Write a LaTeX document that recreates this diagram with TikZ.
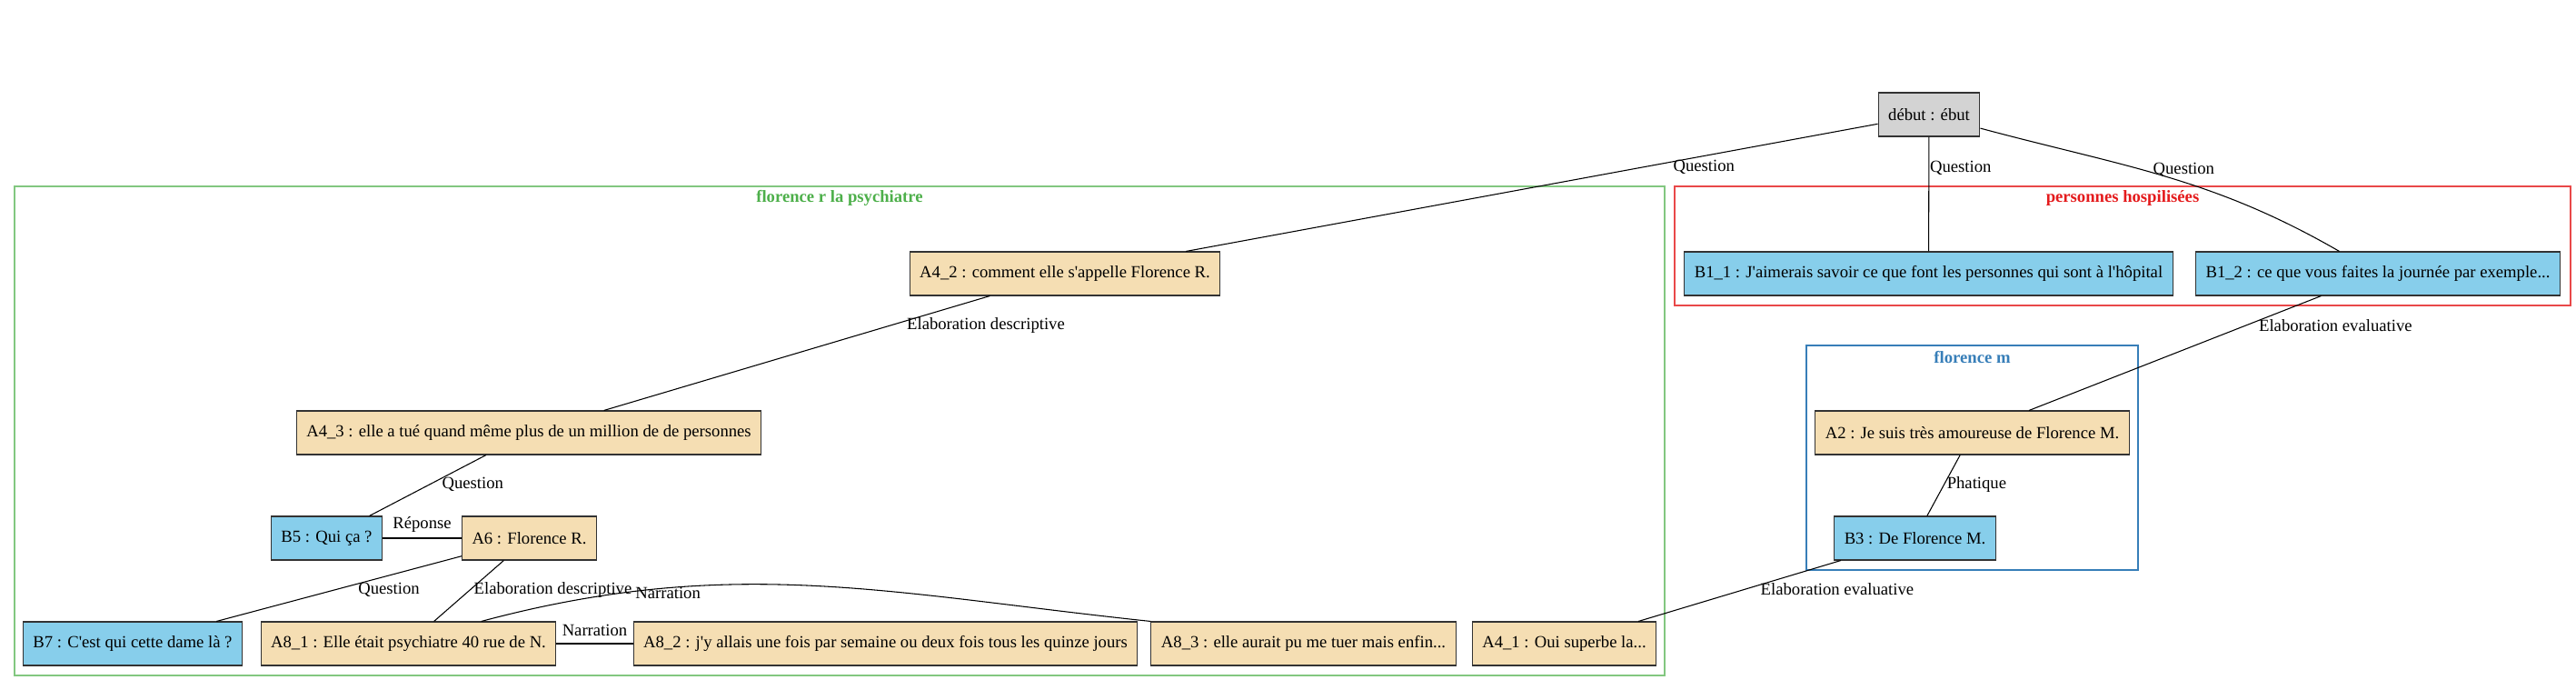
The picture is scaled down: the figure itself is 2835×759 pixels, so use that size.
\documentclass[tikz,border=0pt]{standalone}
\usepackage{fontspec}
\setmainfont{Liberation Serif}
\usepackage{tikz}
\usetikzlibrary{positioning}
\definecolor{wheat}{HTML}{F5DEB3}
\definecolor{skyblue}{HTML}{87CEEB}
\definecolor{greydeb}{HTML}{D3D3D3}
\definecolor{grpred}{HTML}{E41A1C}
\definecolor{grpblue}{HTML}{377EB8}
\definecolor{grpgreen}{HTML}{4DAF4A}
\tikzset{
    spka/.style={
           rectangle,
           draw=black!80, thick,
           fill=wheat,
           inner xsep=8.3pt, inner ysep=0pt,
           minimum height=36pt,
           },
}
\tikzset{
    spkb/.style={
           rectangle,
           draw=black!80, thick,
           fill=skyblue,
           inner xsep=8.3pt, inner ysep=0pt,
           minimum height=36pt,
           },
}
\tikzset{
    debutbox/.style={
           rectangle,
           draw=black!80, thick,
           fill=greydeb,
           inner xsep=8.3pt, inner ysep=0pt,
           minimum height=36pt,
           },
}
\tikzset{
    lbl/.style={anchor=west, inner sep=0pt},
    link/.style={draw=black, line width=0.8pt},
    grp/.style={line width=0.8pt},
    grplbl/.style={inner sep=0pt, font=\fontsize{14}{16}\selectfont\bfseries},
}

\begin{document}
\begin{tikzpicture}[x=0.75pt, y=-0.75pt, font=\fontsize{14}{16}\selectfont]
\useasboundingbox (0,0) rectangle (2835,759);
% groupes
\draw[grp, draw=grpgreen!70] (16,205) rectangle (1832,743);
\node[grplbl, text=grpgreen] (gpsy) at (924,218) {florence r la psychiatre};
\draw[grp, draw=grpred!80] (1843,205) rectangle (2829,336);
\node[grplbl, text=grpred] (ghos) at (2336,218) {personnes hospilisées};
\draw[grp, draw=grpblue] (1988,380) rectangle (2353,627);
\node[grplbl, text=grpblue] (gflm) at (2170.5,393) {florence m};
% noeuds
\node[debutbox] (debut) at (2123,126) {début : ébut};
\node[spkb] (B11) at (2122.5,301) {B1\_1 : J\textquotesingle aimerais savoir ce que font les personnes qui sont à l\textquotesingle hôpital};
\node[spkb] (B12) at (2617,301) {B1\_2 : ce que vous faites la journée par exemple...};
\node[spka] (A42) at (1172,301) {A4\_2 : comment elle s\textquotesingle appelle Florence R.};
\node[spka] (A43) at (582,476) {A4\_3 : elle a tué quand même plus de un million de de personnes};
\node[spka] (A2) at (2170.5,476) {A2 : Je suis très amoureuse de Florence M.};
\node[spkb] (B5) at (359.5,592) {B5 : Qui ça ?};
\node[spka] (A6) at (582.5,592) {A6 : Florence R.};
\node[spkb] (B3) at (2107.5,592) {B3 : De Florence M.};
\node[spkb] (B7) at (146,708) {B7 : C\textquotesingle est qui cette dame là ?};
\node[spka] (A81) at (449.5,708) {A8\_1 : Elle était psychiatre 40 rue de N.};
\node[spka] (A82) at (974.5,708) {A8\_2 : j\textquotesingle y allais une fois par semaine ou deux fois tous les quinze jours};
\node[spka] (A83) at (1434.5,708) {A8\_3 : elle aurait pu me tuer mais enfin...};
\node[spka] (A41) at (1721.5,708) {A4\_1 : Oui superbe la...};
% relations
\draw[link] (debut) -- node[lbl, pos=0.34, xshift=25pt] (q1) {Question} (A42);
\draw[link] (debut) -- node[lbl, pos=0.27, xshift=0.5pt] (q2) {Question} (B11);
\draw[link] (debut) to[out=-15,in=150] node[lbl, pos=0.43, xshift=9pt] (q3) {Question} (B12);
\draw[link] (B12) -- node[lbl, pos=0.26, xshift=11pt] (e1) {Elaboration evaluative} (A2);
\draw[link] (A2) -- node[lbl, pos=0.485, xshift=2pt] (p1) {Phatique} (B3);
\draw[link] (B3) -- node[lbl, pos=0.47, xshift=12pt] (e2) {Elaboration evaluative} (A41);
\draw[link] (A42) -- node[lbl, pos=0.26, xshift=14pt] (d1) {Elaboration descriptive} (A43);
\draw[link] (A43) -- node[lbl, pos=0.485, xshift=10pt] (q4) {Question} (B5);
\draw[link] (B5) -- node[lbl, midway, anchor=center, yshift=11pt] (r1) {Réponse} (A6);
\draw[link] (A6) -- node[lbl, pos=0.517, xshift=19pt] (q5) {Question} (B7);
\draw[link] (A6) -- node[lbl, pos=0.485, xshift=3pt] (d2) {Elaboration descriptive} (A81);
\draw[link] (A81.17) to[out=15,in=174] node[lbl, pos=0.2, xshift=10pt] (n1) {Narration} (A83.north west);
\draw[link] (A81) -- node[lbl, midway, anchor=center, yshift=11pt] (n2) {Narration} (A82);
\end{tikzpicture}
\end{document}
